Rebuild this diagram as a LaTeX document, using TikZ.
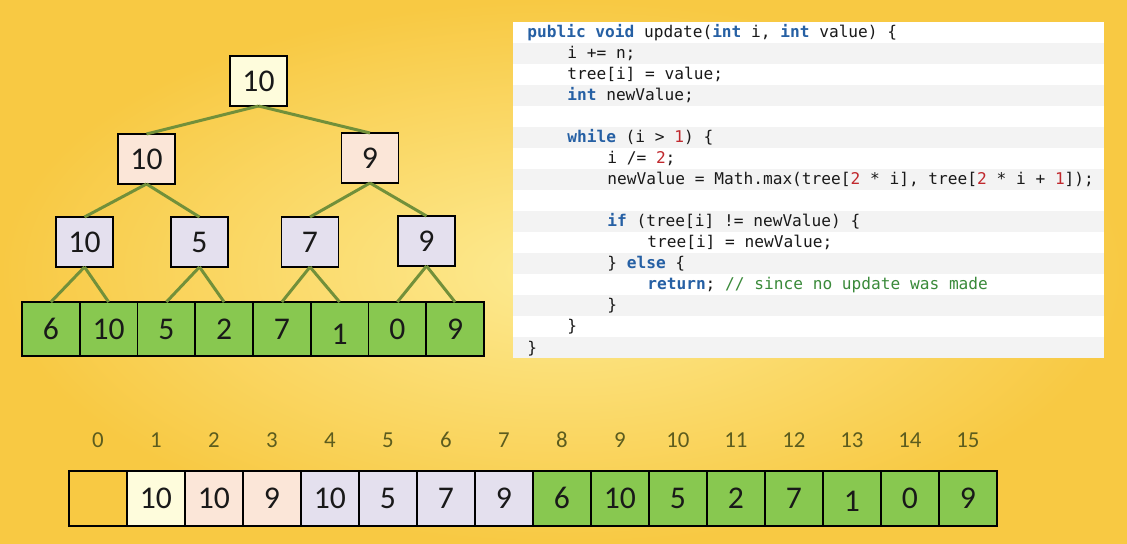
\documentclass[tikz,border=0pt]{standalone}
\usepackage{fontspec}
\usepackage{tikz}
\usetikzlibrary{positioning}

\newfontfamily\numfont{Carlito}
\newfontfamily\codefont{DejaVu Sans Mono}[WordSpace={1,0,0}]

\definecolor{bgyellow}{HTML}{FDEB93}
\definecolor{bgorange}{HTML}{F8C943}
\definecolor{rootfill}{HTML}{FEFCDC}
\definecolor{midfill}{HTML}{FBE6D8}
\definecolor{lowfill}{HTML}{E4E0EE}
\definecolor{leaffill}{HTML}{88C850}
\definecolor{branchcol}{HTML}{72903A}
\definecolor{idxcol}{HTML}{5C5C1E}
\definecolor{stripe}{HTML}{F3F3F3}
\definecolor{kwblue}{HTML}{2660A4}
\definecolor{numred}{HTML}{C0282D}
\definecolor{cmtgreen}{HTML}{3A8A3A}

\newcommand{\kw}[1]{\textbf{\color{kwblue}#1}}
\newcommand{\nm}[1]{{\color{numred}#1}}
\newcommand{\cmt}[1]{{\color{cmtgreen}#1}}

\tikzset{
  numbox/.style={draw=black, line width=0.9pt, text=black!90,
    font=\numfont\fontsize{18}{20}\selectfont,
    text height=11.4pt, text depth=0pt, inner sep=0pt, outer sep=0pt,
    minimum width=1.14cm, minimum height=1.0cm},
  rootbox/.style={numbox, fill=rootfill},
  midbox/.style={numbox, fill=midfill},
  lowbox/.style={numbox, fill=lowfill},
  leaf/.style={numbox, fill=leaffill, minimum width=1.155cm, minimum height=1.08cm},
  arrcell/.style={numbox, minimum width=1.16cm, minimum height=1.1cm},
  idx/.style={font=\numfont\fontsize{13}{15}\selectfont, text=idxcol, inner sep=0pt},
  branch/.style={draw=branchcol, line width=1.7pt},
  codeline/.style={anchor=base west, inner sep=0pt, text=black!90,
    font=\codefont\fontsize{9.2}{11}\selectfont},
}

\begin{document}
\begin{tikzpicture}[x=0.02cm, y=-0.02cm]
    \useasboundingbox (0,0) rectangle (1127,544);
    \shade[inner color=bgyellow, outer color=bgorange] (0,0) rectangle (1127,544);

    % tree
    \node[rootbox] (root) at (258.5,81) {10};
    \node[midbox] (m1) at (146.5,159) {10};
    \node[midbox] (m2) at (370,158) {9};
    \node[lowbox] (w1) at (84.5,242) {10};
    \node[lowbox] (w2) at (199.5,242) {5};
    \node[lowbox] (w3) at (310,242) {7};
    \node[lowbox] (w4) at (426.5,241) {9};
    \node[leaf] (l1) at (50.9,329) {6};
    \node[leaf, right=0pt of l1] (l2) {10};
    \node[leaf, right=0pt of l2] (l3) {5};
    \node[leaf, right=0pt of l3] (l4) {2};
    \node[leaf, right=0pt of l4] (l5) {7};
    \node[leaf, right=0pt of l5] (l6) {\lower3.4pt\hbox{1}};
    \node[leaf, right=0pt of l6] (l7) {0};
    \node[leaf, right=0pt of l7] (l8) {9};

    \path[branch]
      (root.south)
        edge (m1.north)
        edge (m2.north)
      (m1.south)
        edge (w1.north)
        edge (w2.north)
      (m2.south)
        edge (w3.north)
        edge (w4.north)
      (w1.south)
        edge (l1.north)
        edge (l2.north)
      (w2.south)
        edge (l3.north)
        edge (l4.north)
      (w3.south)
        edge (l5.north)
        edge (l6.north)
      (w4.south)
        edge (l7.north)
        edge (l8.north)
    ;

    % code panel
    \fill[white] (513,22) rectangle (1104,358);
    \fill[stripe] (513,43) rectangle (1104,64);
    \fill[stripe] (513,85) rectangle (1104,106);
    \fill[stripe] (513,127) rectangle (1104,148);
    \fill[stripe] (513,169) rectangle (1104,190);
    \fill[stripe] (513,211) rectangle (1104,232);
    \fill[stripe] (513,253) rectangle (1104,274);
    \fill[stripe] (513,295) rectangle (1104,316);
    \fill[stripe] (513,337) rectangle (1104,358);

    \node[codeline] (code1) at (527,38) {\kw{public void} update(\kw{int} i, \kw{int} value) \{};
    \node[codeline] (code2) at (567,59) {i += n;};
    \node[codeline] (code3) at (567,80) {tree[i] = value;};
    \node[codeline] (code4) at (567,101) {\kw{int} newValue;};
    \node[codeline] (code6) at (567,143) {\kw{while} (i > \nm{1}) \{};
    \node[codeline] (code7) at (607,164) {i /= \nm{2};};
    \node[codeline] (code8) at (607,185) {newValue = Math.max(tree[\nm{2} * i], tree[\nm{2} * i + \nm{1}]);};
    \node[codeline] (code10) at (607,227) {\kw{if} (tree[i] != newValue) \{};
    \node[codeline] (code11) at (647,248) {tree[i] = newValue;};
    \node[codeline] (code12) at (607,269) {\} \kw{else} \{};
    \node[codeline] (code13) at (647,290) {\kw{return}; \cmt{// since no update was made}};
    \node[codeline] (code14) at (607,311) {\}};
    \node[codeline] (code15) at (567,332) {\}};
    \node[codeline] (code16) at (527,353) {\}};

    % array
    \node[arrcell] (a0) at (98,498.5) {};
    \node[arrcell, fill=rootfill, right=0pt of a0] (a1) {10};
    \node[arrcell, fill=midfill, right=0pt of a1] (a2) {10};
    \node[arrcell, fill=midfill, right=0pt of a2] (a3) {9};
    \node[arrcell, fill=lowfill, right=0pt of a3] (a4) {10};
    \node[arrcell, fill=lowfill, right=0pt of a4] (a5) {5};
    \node[arrcell, fill=lowfill, right=0pt of a5] (a6) {7};
    \node[arrcell, fill=lowfill, right=0pt of a6] (a7) {9};
    \node[arrcell, fill=leaffill, right=0pt of a7] (a8) {6};
    \node[arrcell, fill=leaffill, right=0pt of a8] (a9) {10};
    \node[arrcell, fill=leaffill, right=0pt of a9] (a10) {5};
    \node[arrcell, fill=leaffill, right=0pt of a10] (a11) {2};
    \node[arrcell, fill=leaffill, right=0pt of a11] (a12) {7};
    \node[arrcell, fill=leaffill, right=0pt of a12] (a13) {\lower1.7pt\hbox{1}};
    \node[arrcell, fill=leaffill, right=0pt of a13] (a14) {0};
    \node[arrcell, fill=leaffill, right=0pt of a14] (a15) {9};

    \node[idx, above=0.46cm of a0] (i0) {0};
    \node[idx, above=0.46cm of a1] (i1) {1};
    \node[idx, above=0.46cm of a2] (i2) {2};
    \node[idx, above=0.46cm of a3] (i3) {3};
    \node[idx, above=0.46cm of a4] (i4) {4};
    \node[idx, above=0.46cm of a5] (i5) {5};
    \node[idx, above=0.46cm of a6] (i6) {6};
    \node[idx, above=0.46cm of a7] (i7) {7};
    \node[idx, above=0.46cm of a8] (i8) {8};
    \node[idx, above=0.46cm of a9] (i9) {9};
    \node[idx, above=0.46cm of a10] (i10) {10};
    \node[idx, above=0.46cm of a11] (i11) {11};
    \node[idx, above=0.46cm of a12] (i12) {12};
    \node[idx, above=0.46cm of a13] (i13) {13};
    \node[idx, above=0.46cm of a14] (i14) {14};
    \node[idx, above=0.46cm of a15] (i15) {15};
  \end{tikzpicture}
\end{document}
